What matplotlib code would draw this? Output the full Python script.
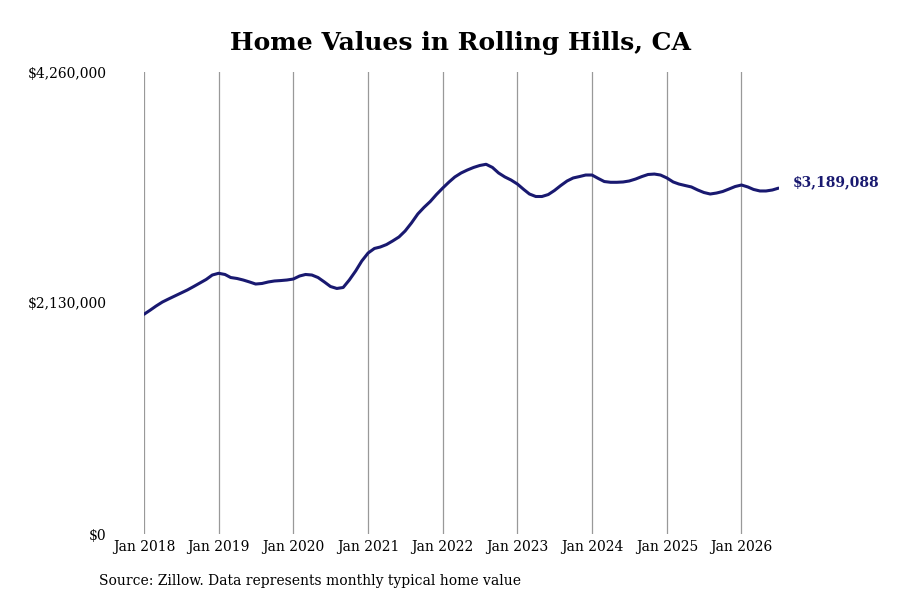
import matplotlib
matplotlib.use("Agg")
import matplotlib.pyplot as plt
import pandas as pd

# monthly typical home value, Jan 2018 .. Jul 2026
values = [
    2026000, 2065000, 2102000, 2139000, 2167000, 2195000, 2222000, 2250000,
    2282000, 2314000, 2347000, 2388000, 2404000, 2393000, 2365000, 2356000,
    2342000, 2324000, 2305000, 2310000, 2324000, 2333000, 2337000, 2342000,
    2351000, 2379000, 2393000, 2388000, 2365000, 2324000, 2282000, 2264000,
    2273000, 2342000, 2425000, 2517000, 2591000, 2633000, 2646000, 2669000,
    2702000, 2739000, 2794000, 2868000, 2951000, 3011000, 3066000, 3130000,
    3190000, 3246000, 3292000, 3329000, 3356000, 3380000, 3398000, 3409000,
    3380000, 3329000, 3292000, 3264000, 3227000, 3177000, 3135000, 3112000,
    3112000, 3130000, 3167000, 3213000, 3255000, 3283000, 3296000, 3310000,
    3310000, 3278000, 3250000, 3243000, 3243000, 3246000, 3255000, 3273000,
    3296000, 3315000, 3319000, 3310000, 3283000, 3246000, 3227000, 3213000,
    3200000, 3172000, 3149000, 3135000, 3144000, 3158000, 3181000, 3204000,
    3218000, 3200000, 3177000, 3163000, 3163000, 3172000, 3189088,
]
dates = pd.date_range("2018-01-01", periods=len(values), freq="MS")

ytick_vals = [0, 2130000, 4260000]
ytick_labels = ["$0", "$2,130,000", "$4,260,000"]
xtick_years = list(range(2018, 2027))

navy = "#191970"
plt.rcParams["font.family"] = "DejaVu Serif"

fig = plt.figure(figsize=(9, 6), dpi=100)
ax = fig.add_axes([0.16, 0.11, 0.705, 0.77])

ax.plot(dates, values, color=navy, lw=2.2, solid_capstyle="round")

ax.set_ylim(0, 4260000)
ax.set_xlim(dates[0], dates[-1])
ax.set_yticks(ytick_vals)
ax.set_yticklabels(ytick_labels)
xt = [pd.Timestamp(f"{y}-01-01") for y in xtick_years]
ax.set_xticks(xt)
ax.set_xticklabels([f"Jan {y}" for y in xtick_years])

ax.grid(axis="x", color="#999999", lw=0.9)
ax.set_axisbelow(True)
for s in ax.spines.values():
    s.set_visible(False)
ax.tick_params(axis="y", length=0, pad=27, labelsize=10)
ax.tick_params(axis="x", length=0, pad=4, labelsize=10)

ax.annotate(f"${values[-1]:,}", xy=(dates[-1], values[-1]), xytext=(10, 4),
            textcoords="offset points", va="center", ha="left",
            fontsize=10, fontweight="bold", color=navy)

fig.text(0.512, 0.928, "Home Values in Rolling Hills, CA", ha="center", va="center",
         fontsize=18, fontweight="bold")
fig.text(0.11, 0.032, "Source: Zillow. Data represents monthly typical home value",
         ha="left", va="center", fontsize=10)

fig.savefig("out.png", dpi=100)
